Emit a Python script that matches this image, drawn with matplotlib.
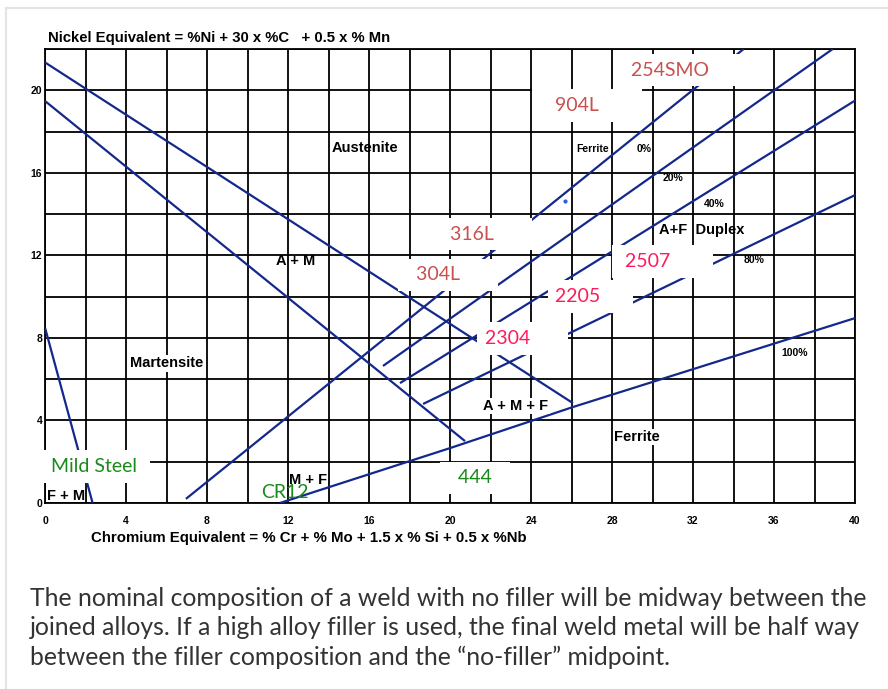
import matplotlib
matplotlib.use("Agg")
import matplotlib.pyplot as plt
import numpy as np

# Schaeffler diagram
# boundary lines (Cr eq on x, Ni eq on y)
upper_bound_x = [0.0, 26.07]
upper_bound_y = [21.35, 4.84]
lower_bound_x = [0.0, 20.74]
lower_bound_y = [19.48, 3.0]
mart_x = [0.0, 2.35]
mart_y = [8.5, 0.0]

# ferrite lines
ferrite_0_x = [6.96, 34.5]
ferrite_0_y = [0.2, 22.0]
ferrite_20_x = [16.69, 38.9]
ferrite_20_y = [6.64, 22.0]
ferrite_40_x = [17.53, 40.0]
ferrite_40_y = [5.81, 19.5]
ferrite_80_x = [18.67, 40.0]
ferrite_80_y = [4.8, 14.92]
ferrite_100_x = [11.6, 20.0, 26.07, 40.0]
ferrite_100_y = [0.0, 2.66, 4.65, 8.96]

dot_x = [25.68]
dot_y = [14.63]

# alloy labels (white boxed)
alloy_names = ["254SMO", "904L", "316L", "304L", "2507", "2205", "2304", "444", "Mild Steel"]
alloy_x = [28.94, 24.45, 19.01, 17.83, 28.4, 25.2, 21.73, 19.9, 0.05]
alloy_y = [20.98, 19.25, 13.03, 11.05, 11.7, 10.02, 7.97, 1.22, 1.78]
alloy_lead = [0, 3, 4, 2, 1, 0, 0, 2, 1]
alloy_trail = [8, 7, 6, 6, 7, 5, 6, 2, 1]
alloy_colors = ["#c9504f"] * 4 + ["#ff1a5a"] * 3 + ["#1a8a1a"] * 2

# region labels
region_names = ["Austenite", "A + M", "Martensite", "A + M + F", "Ferrite",
                "M + F", "A+F  Duplex"]
region_x = [15.80, 12.40, 6.02, 23.26, 29.23, 12.99, 32.44]
region_y = [17.2, 11.72, 6.78, 4.7, 3.2, 1.1, 13.22]
region_boxed = [False, False, True, True, True, False, False]

small_names = ["Ferrite", "0%", "20%", "40%", "80%", "100%"]
small_x = [27.06, 29.58, 31.01, 33.04, 35.01, 37.04]
small_y = [17.15, 17.15, 15.74, 14.48, 11.77, 7.27]

x_ticks = list(range(0, 41, 2))
y_ticks = list(range(0, 23, 2))

caption = ("The nominal composition of a weld with no filler will be midway between the\n"
           "joined alloys. If a high alloy filler is used, the final weld metal will be half way\n"
           "between the filler composition and the \u201cno-filler\u201d midpoint.")

LINE = "#14288c"
BOLD_FONT = ["Liberation Sans", "DejaVu Sans"]
LABEL_FONT = ["Lato", "DejaVu Sans"]

fig = plt.figure(figsize=(8.88, 6.89), dpi=100)
ax = fig.add_axes([45 / 888, 1 - 503 / 689, 810 / 888, 454 / 689])

ax.set_xlim(0, 40)
ax.set_ylim(0, 22)
ax.set_xticks(x_ticks)
ax.set_xticklabels([str(v) if v % 4 == 0 else "" for v in x_ticks],
                   fontfamily=BOLD_FONT, fontweight="bold", fontsize=7.5)
ax.set_yticks(y_ticks)
ax.set_yticklabels([str(v) if v % 4 == 0 else "" for v in y_ticks],
                   fontfamily=BOLD_FONT, fontweight="bold", fontsize=7.5)
ax.tick_params(axis="x", length=0, pad=9)
ax.tick_params(axis="y", length=0, pad=2)
ax.grid(True, color="black", linewidth=1.3)
ax.set_axisbelow(True)
for sp in ax.spines.values():
    sp.set_linewidth(1.3)
    sp.set_zorder(1.5)

for xs, ys in [(upper_bound_x, upper_bound_y), (lower_bound_x, lower_bound_y),
               (mart_x, mart_y), (ferrite_0_x, ferrite_0_y),
               (ferrite_20_x, ferrite_20_y), (ferrite_40_x, ferrite_40_y),
               (ferrite_80_x, ferrite_80_y), (ferrite_100_x, ferrite_100_y)]:
    ax.plot(xs, ys, color=LINE, linewidth=1.6, zorder=3, solid_capstyle="butt")

ax.scatter(dot_x, dot_y, s=9, color="#2a5ce0", zorder=4, linewidths=0)

for name, x, y, nl, nr, c in zip(alloy_names, alloy_x, alloy_y, alloy_lead,
                                 alloy_trail, alloy_colors):
    ax.text(x, y, " " * nl + name + " " * nr, color=c, fontsize=14,
            fontfamily=LABEL_FONT, ha="left", va="center", zorder=10,
            clip_on=False,
            bbox=dict(boxstyle="square,pad=0.4", facecolor="white",
                      edgecolor="none"))

ax.text(11.85, 0.5, "CR12", color="#1a8a1a", fontsize=14, fontfamily=LABEL_FONT,
        ha="center", va="center", zorder=5)

for name, x, y, boxed in zip(region_names, region_x, region_y, region_boxed):
    kw = {}
    if boxed:
        kw["bbox"] = dict(boxstyle="square,pad=0.1", facecolor="white",
                          edgecolor="none")
    ax.text(x, y, name, fontsize=10.5, fontweight="bold", fontfamily=BOLD_FONT,
            ha="center", va="center", zorder=6, **kw)

ax.text(0.1, 0.34, "F + M", fontsize=10.5, fontweight="bold", fontfamily=BOLD_FONT,
        ha="left", va="center", zorder=6)

for name, x, y in zip(small_names, small_x, small_y):
    ax.text(x, y, name, fontsize=7.5, fontweight="bold", fontfamily=BOLD_FONT,
            ha="center", va="center", zorder=6)

fig.text(48 / 888, 1 - 38 / 689, "Nickel Equivalent = %Ni + 30 x %C   + 0.5 x % Mn",
         fontsize=10.7, fontweight="bold", fontfamily=BOLD_FONT, ha="left", va="center")
fig.text(309 / 888, 1 - 538 / 689,
         "Chromium Equivalent = % Cr + % Mo + 1.5 x % Si + 0.5 x %Nb",
         fontsize=10.8, fontweight="bold", fontfamily=BOLD_FONT, ha="center", va="center")

fig.text(30 / 888, 1 - 587 / 689, caption, fontsize=17.8, fontfamily=LABEL_FONT,
         color="#333333", ha="left", va="top", linespacing=1.33)

# light card border
fig.add_artist(plt.Line2D([6 / 888, 6 / 888], [0, 1 - 8 / 689], color="#e4e4e4",
                          linewidth=1.5, transform=fig.transFigure))
fig.add_artist(plt.Line2D([6 / 888, 1], [1 - 8 / 689, 1 - 8 / 689], color="#e4e4e4",
                          linewidth=1.5, transform=fig.transFigure))

fig.savefig("out.png", dpi=100)
